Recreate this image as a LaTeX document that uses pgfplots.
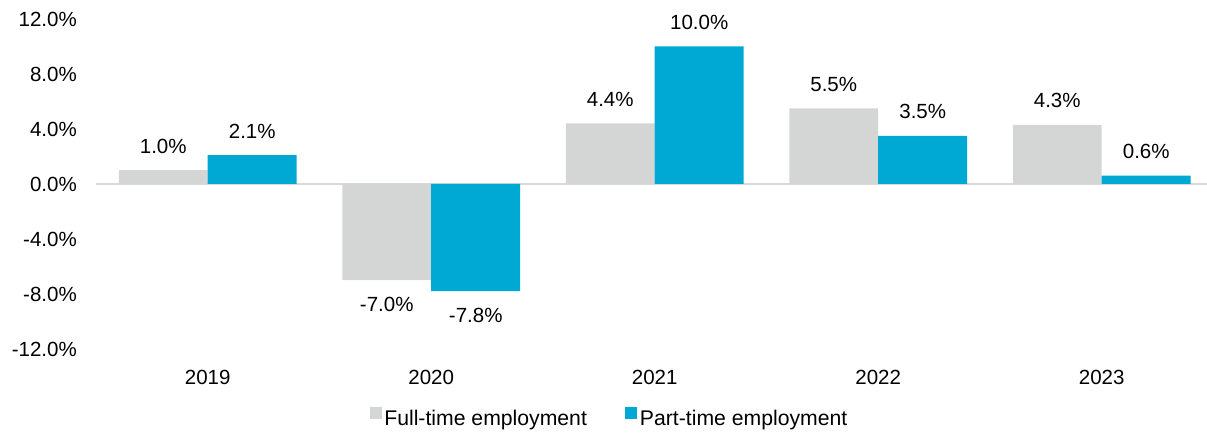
\documentclass[border=0pt]{standalone}
\usepackage{fontspec}
\setmainfont{Liberation Sans}
\usepackage{pgfplots}
\pgfplotsset{compat=1.18}
\definecolor{ftgrey}{HTML}{D4D5D5}
\definecolor{ptblue}{HTML}{00A9D3}
\definecolor{zeroline}{HTML}{D9D9D9}
\newcommand\lblfont{\fontsize{20.5}{24}\selectfont}
\newcommand\legfont{\fontsize{21.2}{24}\selectfont}

\begin{document}
\begin{tikzpicture}
\begin{axis}[
  scale only axis,
  width=1111pt, height=330pt,
  xmin=-0.5, xmax=4.471,
  ymin=-12, ymax=12,
  axis line style={draw=none},
  ytick={-12,-8,...,12},
  xtick={0,...,4},
  xticklabels={2019,2020,2021,2022,2023},
  major tick length=0pt,
  /pgf/number format/assume math mode=true,
  yticklabel={\pgfmathprintnumber[fixed,fixed zerofill,precision=1]{\tick}\%},
  tick label style={font=\lblfont, inner sep=0pt},
  yticklabel style={xshift=-19pt},
  xticklabel style={yshift=-21pt},
  clip=false,
  legend style={draw=none, font=\legfont, legend columns=2,
    at={(0.4625,-0.209)}, anchor=center,
    nodes={inner sep=2.5pt},
    /tikz/every even column/.append style={column sep=36pt}},
]
% zero line
\addplot[forget plot, zeroline, line width=1.5pt, mark=none] coordinates {(-0.5,0) (4.471,0)};

% Full-time
\addplot[ybar, bar width=0.398, bar shift=-0.199, fill=ftgrey, draw=none,
  legend image code/.code={\fill[ftgrey] (0pt,0pt) rectangle (12pt,12pt);},
  nodes near coords={\pgfmathprintnumber[fixed,fixed zerofill,precision=1]{\pgfplotspointmeta}\%},
  every node near coord/.append style={font=\lblfont, inner sep=0pt, outer sep=17pt, xshift=-44.5pt, text=black}]
  coordinates {(0,1.0) (1,-7.0) (2,4.4) (3,5.5) (4,4.3)};
% Part-time
\addplot[ybar, bar width=0.398, bar shift=0.199, fill=ptblue, draw=none,
  legend image code/.code={\fill[ptblue] (0pt,0pt) rectangle (12pt,12pt);},
  nodes near coords={\pgfmathprintnumber[fixed,fixed zerofill,precision=1]{\pgfplotspointmeta}\%},
  every node near coord/.append style={font=\lblfont, inner sep=0pt, outer sep=17pt, xshift=44.5pt, text=black}]
  coordinates {(0,2.1) (1,-7.8) (2,10.0) (3,3.5) (4,0.6)};
\legend{Full-time employment, Part-time employment}
\end{axis}
\pgfresetboundingbox
\path[use as bounding box] (-96pt,-84pt) rectangle (1111pt,349pt);
\end{tikzpicture}
\end{document}
